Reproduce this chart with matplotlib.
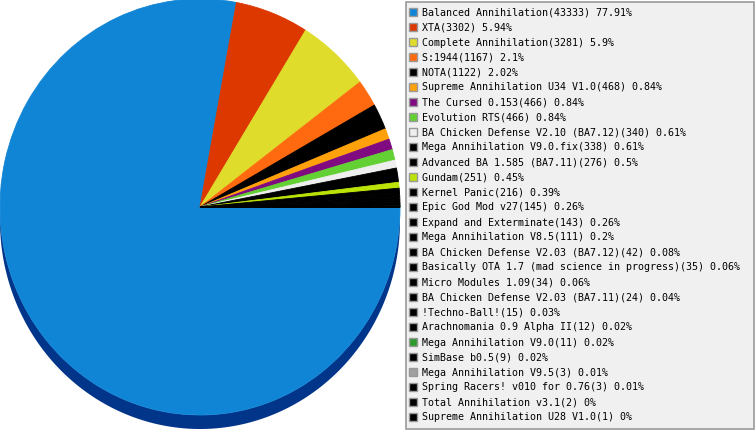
import matplotlib
matplotlib.use("Agg")
import matplotlib.pyplot as plt
from matplotlib.patches import Rectangle
import numpy as np

names = ["Balanced Annihilation", "XTA", "Complete Annihilation", "S:1944", "NOTA",
         "Supreme Annihilation U34 V1.0", "The Cursed 0.153", "Evolution RTS",
         "BA Chicken Defense V2.10 (BA7.12)", "Mega Annihilation V9.0.fix",
         "Advanced BA 1.585 (BA7.11)", "Gundam", "Kernel Panic", "Epic God Mod v27",
         "Expand and Exterminate", "Mega Annihilation V8.5",
         "BA Chicken Defense V2.03 (BA7.12)",
         "Basically OTA 1.7 (mad science in progress)", "Micro Modules 1.09",
         "BA Chicken Defense V2.03 (BA7.11)", "!Techno-Ball!",
         "Arachnomania 0.9 Alpha II", "Mega Annihilation V9.0", "SimBase b0.5",
         "Mega Annihilation V9.5", "Spring Racers! v010 for 0.76",
         "Total Annihilation v3.1", "Supreme Annihilation U28 V1.0"]
counts = [43333, 3302, 3281, 1167, 1122, 468, 466, 466, 340, 338, 276, 251, 216,
          145, 143, 111, 42, 35, 34, 24, 15, 12, 11, 9, 3, 3, 2, 1]
colors = ["#1185d5", "#dc3800", "#dfdc2b", "#ff6a10", "#000000", "#ffa10a",
          "#800a80", "#63d034", "#eeeeee", "#000000", "#000000", "#bbe305",
          "#000000", "#000000", "#000000", "#000000", "#000000", "#000000",
          "#000000", "#000000", "#000000", "#000000", "#2d9a2d", "#000000",
          "#a0a0a0", "#000000", "#000000", "#000000"]
side_color = "#00358a"

W, H = 755, 430
fig = plt.figure(figsize=(W / 100, H / 100), dpi=100)
ax = fig.add_axes([0, 0, 1, 1])

# pie geometry in pixels
cx, cy = 200, 207
rx, ry = 200, 208
depth = 14

wedges, _ = ax.pie(counts, colors=colors, startangle=0, counterclock=False,
                   radius=1, center=(0, 0), wedgeprops=dict(linewidth=0.6))
for w in wedges:
    w.set_edgecolor(w.get_facecolor())
ax.set_aspect("auto")

# 3d side band under the pie
t = np.linspace(0, -np.pi, 200)
sx = np.concatenate([np.cos(t), np.cos(t[::-1])])
sy = np.concatenate([np.sin(t), np.sin(t[::-1]) - depth / ry])
ax.fill(sx, sy, color=side_color, zorder=0, lw=0)

ax.set_xlim(-cx / rx, (W - cx) / rx)
ax.set_ylim(-(H - cy) / ry, cy / ry)
ax.axis("off")

# legend box in pixel coords (origin top-left)
lax = fig.add_axes([0, 0, 1, 1], facecolor="none")
lax.set_xlim(0, W)
lax.set_ylim(H, 0)
lax.axis("off")
lax.add_patch(Rectangle((405.5, 1.5), 348, 427, facecolor="#f0f0f0",
                        edgecolor="#999999", lw=1.2))

total = sum(counts)
for i, (n, c, col) in enumerate(zip(names, counts, colors)):
    y = 12 + 15 * i
    lax.add_patch(Rectangle((409, y - 4.5), 8, 8, facecolor=col,
                            edgecolor="#999999", lw=1))
    pct = round(100 * c / total, 2)
    lax.text(422, y + 0.5, f"{n}({c}) {pct:g}%", fontsize=7.2,
             family="DejaVu Sans Mono", va="center", ha="left", color="black")

fig.savefig("out.png", dpi=100)
